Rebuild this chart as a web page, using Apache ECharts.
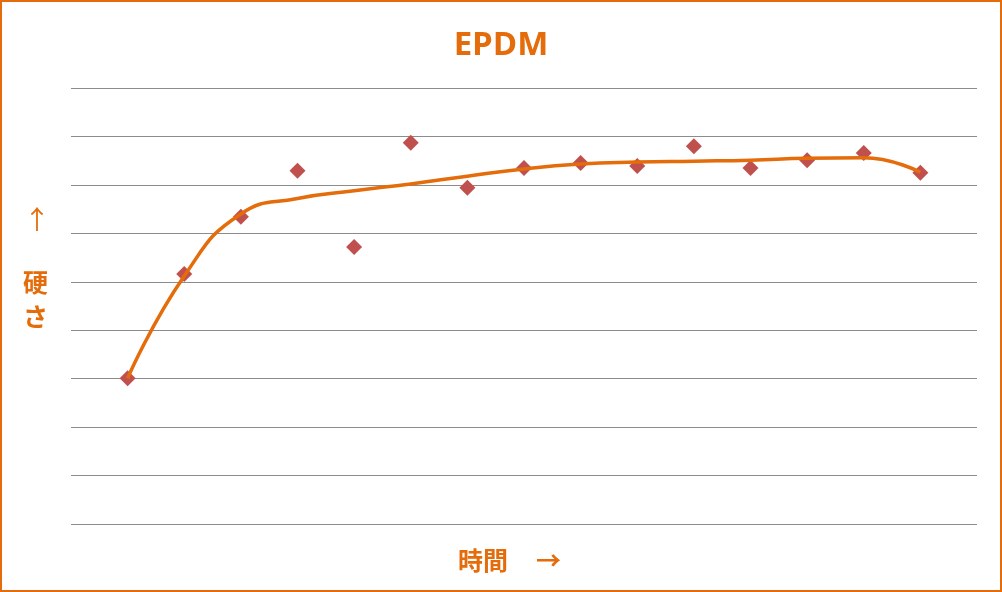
<!doctype html>
<html>
<head>
<meta charset="utf-8">
<title>EPDM</title>
<script src="https://cdn.jsdelivr.net/npm/echarts@6/dist/echarts.min.js"></script>
<style>
  body { margin: 0; background: #fff; }
  #container { width: 1002px; height: 592px; box-sizing: border-box; border: 2px solid #e46c0a; }
</style>
</head>
<body>
<div id="container"></div>
<script type="text/javascript">
    // 時間（横軸の位置）
    var times = [1, 2, 3, 4, 5, 6, 7, 8, 9, 10, 11, 12, 13, 14, 15];
    // 測定値（硬さ）
    var hardness = [3.01, 5.16, 6.34, 7.29, 5.72, 7.87, 6.94, 7.35, 7.45, 7.39, 7.80, 7.35, 7.51, 7.66, 7.25];
    // 近似曲線
    var trend = [3.01, 5.12, 6.40, 6.72, 6.88, 7.02, 7.18, 7.33, 7.43, 7.47, 7.49, 7.51, 7.55, 7.56, 7.26];

    var orange = '#e46c0a';

    var option = {
        backgroundColor: '#fff',
        animation: false,
        title: {
            text: 'EPDM',
            left: 'center',
            top: 22,
            textStyle: { color: orange, fontSize: 33, fontWeight: 'bold', fontFamily: 'Open Sans' }
        },
        grid: { left: 69, right: 23, top: 86, bottom: 66 },
        xAxis: {
            type: 'value', min: 0, max: 16,
            axisLine: { show: false }, axisTick: { show: false },
            axisLabel: { show: false }, splitLine: { show: false }
        },
        yAxis: {
            type: 'value', min: 0, max: 9, interval: 1,
            axisLine: { show: false }, axisTick: { show: false },
            axisLabel: { show: false },
            splitLine: { lineStyle: { color: '#8c8c8c', width: 1 } }
        },
        graphic: [
            { type: 'text', left: 22, top: 204, style: { text: '↑', fill: orange, font: '26px "Noto Sans CJK JP"' } },
            { type: 'text', left: 21, top: 268, style: { text: '硬', fill: orange, font: 'bold 25px "Noto Sans CJK JP"' } },
            { type: 'text', left: 21, top: 302, style: { text: 'さ', fill: orange, font: 'bold 25px "Noto Sans CJK JP"' } },
            { type: 'text', left: 456, top: 546, style: { text: '時間', fill: orange, font: 'bold 25px "Noto Sans CJK JP"' } },
            { type: 'text', left: 534, top: 546, style: { text: '→', fill: orange, font: 'bold 25px "Noto Sans CJK JP"' } }
        ],
        series: [
            {
                type: 'line',
                data: times.map(function (t, i) { return [t, trend[i]]; }),
                smooth: 0.5,
                showSymbol: false,
                lineStyle: { color: orange, width: 3.5 },
                z: 3
            },
            {
                type: 'scatter',
                data: times.map(function (t, i) { return [t, hardness[i]]; }),
                symbol: 'diamond',
                symbolSize: 16,
                itemStyle: { color: '#c0504d', opacity: 1 },
                z: 2
            }
        ]
    };
    var myChart = echarts.init(document.getElementById('container'));
    myChart.setOption(option);
</script>
</body>
</html>
